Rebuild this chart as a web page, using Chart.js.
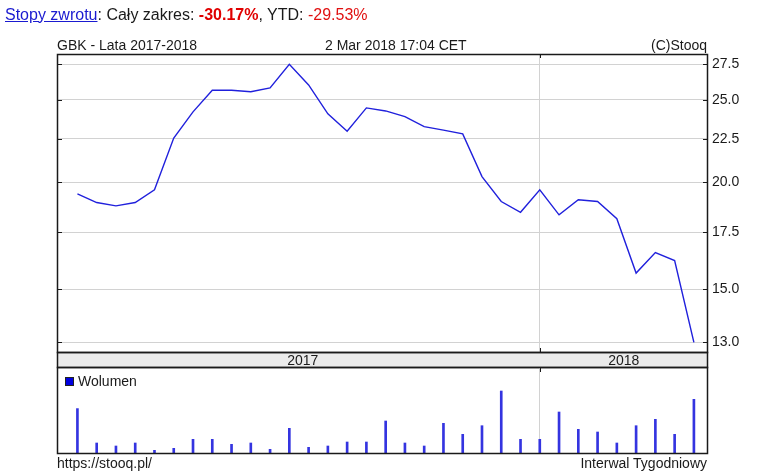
<!DOCTYPE html>
<html><head><meta charset="utf-8">
<script src="https://cdn.jsdelivr.net/npm/chart.js@4.4.1/dist/chart.umd.min.js"></script>
<style>
body{margin:0;width:775px;height:474px;position:relative;background:#fff;font-family:"Liberation Sans",Arial,sans-serif;overflow:hidden}
.t{position:absolute;white-space:nowrap;color:#1a1a1a;line-height:1;z-index:5}
canvas{position:absolute;left:0;top:0}
a{color:#1a1ad0;text-decoration:underline}
</style></head><body>
<div class="t" style="left:5px;top:6.5px;font-size:16px;"><a>Stopy zwrotu</a>: Cały zakres: <b style="color:#e00000">-30.17%</b>, YTD: <span style="color:#e01010">-29.53%</span></div>
<div class="t" style="left:57px;top:37.5px;font-size:14px;">GBK - Lata 2017-2018</div>
<div class="t" style="left:325px;top:37.5px;font-size:14px;">2 Mar 2018 17:04 CET</div>
<div class="t" style="right:68px;top:37.5px;font-size:14px;">(C)Stooq</div>
<div class="t" style="left:57px;top:456px;font-size:14px;">https://stooq.pl/</div>
<div class="t" style="right:68px;top:456px;font-size:14px;">Interwal Tygodniowy</div>
<div class="t" style="left:65px;top:377px;width:7px;height:7px;background:#0000e0;border:1px solid #222"></div>
<div class="t" style="left:78px;top:374px;font-size:14px;">Wolumen</div>
<canvas id="price" width="775" height="474"></canvas>
<canvas id="vol" width="775" height="474"></canvas>
<script>
// ---- data ----
const weeks = ['2017-07-21','2017-07-28','2017-08-04','2017-08-11','2017-08-18','2017-08-25','2017-09-01','2017-09-08','2017-09-15','2017-09-22','2017-09-29','2017-10-06','2017-10-13','2017-10-20','2017-10-27','2017-11-03','2017-11-10','2017-11-17','2017-11-24','2017-12-01','2017-12-08','2017-12-15','2017-12-22','2017-12-29','2018-01-05','2018-01-12','2018-01-19','2018-01-26','2018-02-02','2018-02-09','2018-02-16','2018-02-23','2018-03-02'];
const closePrices = [19.40,18.95,18.78,18.95,19.61,22.54,24.19,25.64,25.64,25.54,25.80,27.50,26.01,24.06,22.96,24.45,24.25,23.88,23.25,23.03,22.80,20.32,19.00,18.46,19.61,18.33,19.09,19.00,18.14,15.67,16.56,16.21,13.00];
const volumes = [444,100,70,100,27,47,137,137,87,100,37,247,57,70,110,110,320,100,70,297,187,273,620,137,137,410,237,210,100,273,337,187,537];
const priceTicks = [13.0,15.0,17.5,20.0,22.5,25.0,27.5];
const yearLabels = ['2017','2018'];

// ---- layout constants ----
const L = 57, R = 707, PT = 54, PB = 352, SB = 367, VB = 453;
const xMin = -1.06, xMax = 32.68;
const yearIdx = weeks.findIndex(w => w.startsWith('2018'));
const FONT = '"Liberation Sans", Arial, sans-serif';
const GRID = '#d2d2d2';

function frame(ctx, top, bottom) {
  ctx.save();
  ctx.strokeStyle = '#1a1a1a';
  ctx.lineWidth = 1.5;
  ctx.strokeRect(L + 0.5, top + 0.5, R - L, bottom - top);
  ctx.restore();
}

const pricePlugin = {
  id: 'pricePlugin',
  afterDraw(chart) {
    const ctx = chart.ctx, ys = chart.scales.y, xs = chart.scales.x;
    const xy = Math.round(xs.getPixelForValue(yearIdx)) + 0.5;
    ctx.save();
    ctx.fillStyle = '#ebebeb';
    ctx.fillRect(L, PB, R - L, SB - PB);
    ctx.restore();
    frame(ctx, PT, PB);
    frame(ctx, PB, SB);
    ctx.save();
    ctx.strokeStyle = '#1a1a1a';
    ctx.lineWidth = 1;
    ctx.beginPath();
    priceTicks.forEach(v => {
      const y = Math.round(ys.getPixelForValue(v)) + 0.5;
      ctx.moveTo(L, y); ctx.lineTo(L + 5, y);
      ctx.moveTo(R - 4, y); ctx.lineTo(R + 1, y);
    });
    ctx.moveTo(xy, PT); ctx.lineTo(xy, PT + 4);
    ctx.moveTo(xy, PB - 4); ctx.lineTo(xy, PB);
    ctx.moveTo(xy, SB); ctx.lineTo(xy, SB + 5);
    ctx.stroke();
    ctx.fillStyle = '#1a1a1a';
    ctx.font = '14px ' + FONT;
    ctx.textAlign = 'center';
    ctx.textBaseline = 'alphabetic';
    ctx.fillText(yearLabels[0], (L + xy) / 2 + 4, SB - 2);
    ctx.fillText(yearLabels[1], (xy + R) / 2, SB - 2);
    ctx.restore();
  }
};

new Chart(document.getElementById('price'), {
  type: 'line',
  data: {
    datasets: [{
      data: closePrices.map((v, i) => ({x: i, y: v})),
      borderColor: '#2020dc',
      borderWidth: 1.4,
      pointRadius: 0,
      tension: 0,
      fill: false
    }]
  },
  options: {
    responsive: false,
    animation: false,
    events: [],
    layout: {padding: {left: L, top: PT, right: 0, bottom: 474 - PB}},
    plugins: {legend: {display: false}, tooltip: {enabled: false}},
    scales: {
      x: {
        type: 'linear', min: xMin, max: xMax,
        afterBuildTicks: s => { s.ticks = [{value: yearIdx}]; },
        afterFit: s => { s.height = 0; },
        ticks: {display: false},
        grid: {color: GRID, lineWidth: 1, drawTicks: false},
        border: {display: false}
      },
      y: {
        type: 'logarithmic', position: 'right', min: 12.67, max: 28.27,
        afterBuildTicks: s => { s.ticks = priceTicks.map(v => ({value: v})); },
        afterFit: s => { s.width = 775 - R; },
        ticks: {
          callback: v => Number(v).toFixed(1),
          color: '#1a1a1a', padding: 5,
          font: {family: FONT, size: 14}
        },
        grid: {color: GRID, lineWidth: 1, drawTicks: false},
        border: {display: false}
      }
    }
  },
  plugins: [pricePlugin]
});

const volPlugin = {
  id: 'volPlugin',
  afterDraw(chart) {
    const ctx = chart.ctx, xs = chart.scales.x;
    const xy = Math.round(xs.getPixelForValue(yearIdx)) + 0.5;
    frame(ctx, SB, VB);
    ctx.save();
    ctx.strokeStyle = '#1a1a1a';
    ctx.lineWidth = 1;
    ctx.beginPath();
    ctx.moveTo(xy, SB); ctx.lineTo(xy, SB + 5);
    ctx.stroke();
    ctx.restore();
  }
};

new Chart(document.getElementById('vol'), {
  type: 'bar',
  data: {
    datasets: [{
      data: volumes.map((v, i) => ({x: i, y: v})),
      backgroundColor: '#3434e0',
      barThickness: 2
    }]
  },
  options: {
    responsive: false,
    animation: false,
    events: [],
    layout: {padding: {left: L, top: SB, right: 775 - R, bottom: 474 - VB}},
    plugins: {legend: {display: false}, tooltip: {enabled: false}},
    scales: {
      x: {
        type: 'linear', min: xMin, max: xMax, offset: false,
        afterBuildTicks: s => { s.ticks = [{value: yearIdx}]; },
        afterFit: s => { s.height = 0; },
        ticks: {display: false},
        grid: {color: GRID, lineWidth: 1, drawTicks: false, offset: false},
        border: {display: false}
      },
      y: {display: false, min: 0, max: 860}
    }
  },
  plugins: [volPlugin]
});
</script>
</body></html>
